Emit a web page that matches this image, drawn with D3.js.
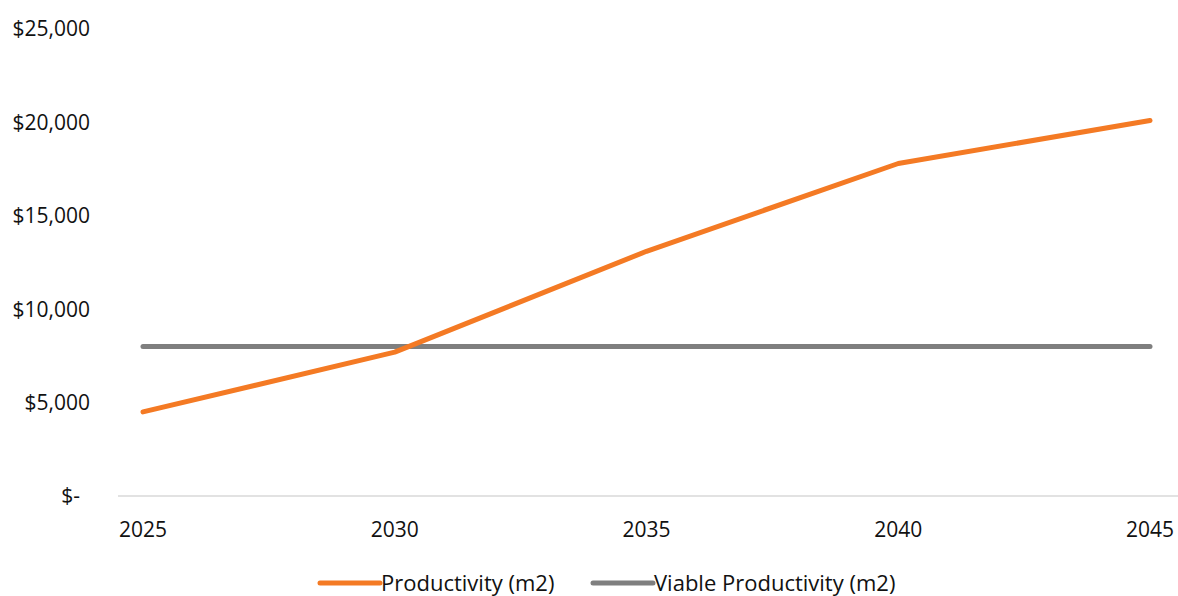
<!DOCTYPE html>
<html>
<head>
<meta charset="utf-8">
<script src="https://cdn.jsdelivr.net/npm/d3@7"></script>
<style>
  html, body { margin: 0; padding: 0; background: #fff; }
  svg { display: block; }
  text { font-family: "Open Sans", "Noto Sans", sans-serif; fill: #111; }
</style>
</head>
<body>
<script>
// Productivity per square metre vs. the viable threshold, 2025–2045
const years = ["2025", "2030", "2035", "2040", "2045"];
const productivity = [4500, 7700, 13100, 17800, 20100];
const viableProductivity = [8000, 8000, 8000, 8000, 8000];
const yTicks = [0, 5000, 10000, 15000, 20000, 25000];
const seriesNames = ["Productivity (m2)", "Viable Productivity (m2)"];
const seriesColors = ["#F47A24", "#7F7F7F"];

const W = 1178, H = 596;
const svg = d3.select("body").append("svg").attr("width", W).attr("height", H);

const x = d3.scalePoint().domain(years).range([143, 1150]);
const y = d3.scaleLinear().domain([0, 25000]).range([496, 29]);

const fmt = v => v === 0 ? "$-" : "$" + d3.format(",")(v);

// baseline
svg.append("line")
  .attr("x1", 118).attr("x2", 1178)
  .attr("y1", y(0)).attr("y2", y(0))
  .attr("stroke", "#D9D9D9").attr("stroke-width", 1.5);

// y labels
svg.append("g").selectAll("text").data(yTicks).join("text")
  .attr("x", d => d === 0 ? 80 : 90)
  .attr("y", d => y(d))
  .attr("dy", "0.35em")
  .attr("text-anchor", "end")
  .style("font-size", "21px")
  .text(fmt);

// x labels
svg.append("g").selectAll("text").data(years).join("text")
  .attr("x", d => x(d))
  .attr("y", 537)
  .attr("text-anchor", "middle")
  .style("font-size", "21px")
  .text(d => d);

const line = d3.line().x((d, i) => x(years[i])).y(d => y(d));

[viableProductivity, productivity].forEach((vals, k) => {
  const idx = k === 0 ? 1 : 0;
  svg.append("path")
    .attr("d", line(vals))
    .attr("fill", "none")
    .attr("stroke", seriesColors[idx])
    .attr("stroke-width", 5)
    .attr("stroke-linecap", "round")
    .attr("stroke-linejoin", "round");
});

// legend
const legendX = [320, 593];
seriesNames.forEach((name, i) => {
  const g = svg.append("g").attr("transform", `translate(${legendX[i]},583)`);
  g.append("line").attr("x1", 0).attr("x2", 60).attr("y1", 0).attr("y2", 0)
    .attr("stroke", seriesColors[i]).attr("stroke-width", 5).attr("stroke-linecap", "round");
  g.append("text").attr("x", 61).attr("y", 0).attr("dy", "0.35em")
    .style("font-size", "22px").text(name);
});
</script>
</body>
</html>
